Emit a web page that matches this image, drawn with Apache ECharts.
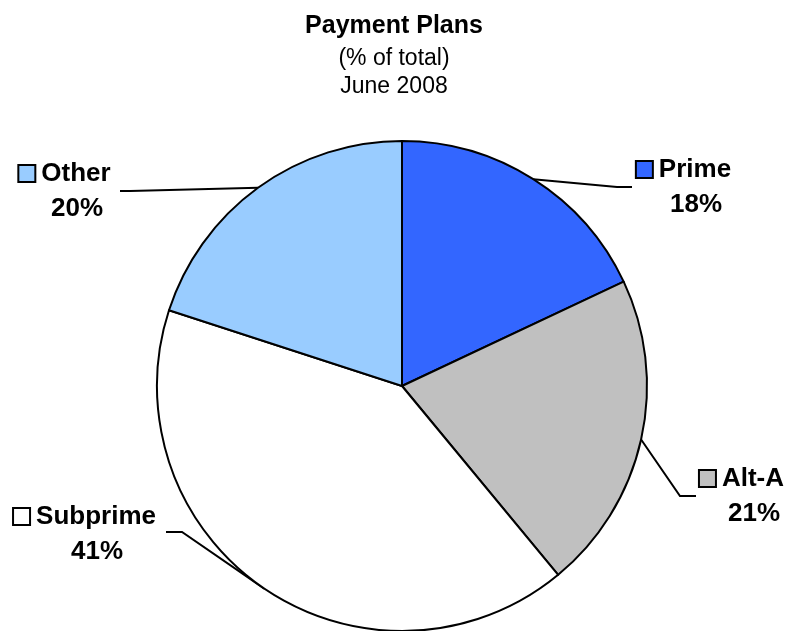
<!DOCTYPE html>
<html><head><meta charset="utf-8">
<script src="https://cdn.jsdelivr.net/npm/echarts@6/dist/echarts.min.js"></script>
<style>html,body{margin:0;padding:0;background:#fff}#c{width:788px;height:631px}</style>
</head><body><div id="c"></div>
<script>
const categories = ['Prime', 'Alt-A', 'Subprime', 'Other'];
const values = [18, 21, 41, 20];
const colors = ['#3366FF', '#C0C0C0', '#FFFFFF', '#99CCFF'];
const titleLines = ['Payment Plans', '(% of total)', 'June 2008'];

// label block anchors (layout only)
const labelPos = [
  {x: 684, y: 187, line: [[617, 187], [632, 187]]},
  {x: 742, y: 496, line: [[680, 496], [696, 496]]},
  {x: 85, y: 534, line: [[182, 532], [166, 532]]},
  {x: 65, y: 191, line: [[130, 191], [120, 191]]}
];

const FONT = 'Liberation Sans, Arial, sans-serif';
const rich = {
  name: {fontFamily: FONT, fontWeight: 'bold', fontSize: 26, color: '#000', lineHeight: 35},
  pct: {fontFamily: FONT, fontWeight: 'bold', fontSize: 26, color: '#000', lineHeight: 35},
  gap: {width: 7, height: 15},
  sp: {width: 24, height: 15}
};
categories.forEach((c, i) => {
  rich['sq' + i] = {width: 15, height: 15, backgroundColor: colors[i], borderColor: '#000', borderWidth: 2};
});

const chart = echarts.init(document.getElementById('c'), null, {renderer: 'canvas'});
chart.setOption({
  backgroundColor: '#fff',
  animation: false,
  title: [
    {text: titleLines[0], left: 'center', top: 9, textStyle: {fontFamily: FONT, fontWeight: 'bold', fontSize: 25, color: '#000'}},
    {text: titleLines[1], left: 'center', top: 42, textStyle: {fontFamily: FONT, fontWeight: 'normal', fontSize: 23, color: '#000'}},
    {text: titleLines[2], left: 'center', top: 70, textStyle: {fontFamily: FONT, fontWeight: 'normal', fontSize: 23, color: '#000'}}
  ],
  series: [{
    type: 'pie',
    center: [402, 386],
    radius: 245,
    startAngle: 90,
    clockwise: true,
    avoidLabelOverlap: false,
    itemStyle: {borderColor: '#000', borderWidth: 2},
    emphasis: {disabled: true},
    label: {
      show: true,
      position: 'outside',
      formatter: p => '{sq' + p.dataIndex + '|}{gap|}{name|' + p.name + '}\n{sp|}{pct|' + p.value + '%}',
      rich: rich,
      align: 'center'
    },
    labelLine: {show: true, lineStyle: {color: '#000', width: 2}, smooth: false},
    labelLayout: function (params) {
      const lp = labelPos[params.dataIndex];
      const start = params.labelLinePoints ? params.labelLinePoints[0] : lp.line[0];
      return {
        x: lp.x, y: lp.y, align: 'center', verticalAlign: 'middle',
        labelLinePoints: [start, lp.line[0], lp.line[1]]
      };
    },
    data: categories.map((c, i) => ({name: c, value: values[i], itemStyle: {color: colors[i]}}))
  }]
});
</script></body></html>
